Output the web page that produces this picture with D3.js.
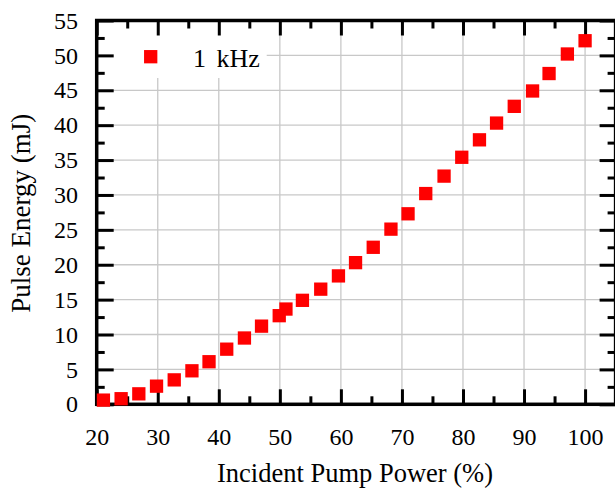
<!DOCTYPE html>
<html>
<head>
<meta charset="utf-8">
<script src="https://cdn.jsdelivr.net/npm/d3@7"></script>
<style>
  body { margin: 0; background: #fff; }
  svg { display: block; font-family: "Liberation Serif", "Times New Roman", serif; }
</style>
</head>
<body>
<script>
// Data
const pumpPower = [21.1, 24.0, 26.9, 29.8, 32.7, 35.6, 38.4, 41.3, 44.2, 47.0,
                   49.9, 51.0, 53.7, 56.7, 59.6, 62.4, 65.3, 68.2, 71.0, 73.9,
                   76.9, 79.8, 82.7, 85.5, 88.4, 91.4, 94.1, 97.1, 100.0];
const pulseEnergy = [0.6, 0.8, 1.5, 2.6, 3.5, 4.8, 6.1, 7.9, 9.5, 11.2,
                     12.7, 13.65, 14.9, 16.5, 18.4, 20.3, 22.5, 25.1, 27.3, 30.2,
                     32.7, 35.4, 37.9, 40.3, 42.7, 44.9, 47.4, 50.2, 52.1];
const xTicks = [20, 30, 40, 50, 60, 70, 80, 90, 100];
const xMinor = [25, 35, 45, 55, 65, 75, 85, 95, 105];
const yTicks = [0, 5, 10, 15, 20, 25, 30, 35, 40, 45, 50, 55];
const yMinor = [2.5, 7.5, 12.5, 17.5, 22.5, 27.5, 32.5, 37.5, 42.5, 47.5, 52.5];
const seriesName = '1 kHz';
const xTitle = 'Incident Pump Power (%)';
const yTitle = 'Pulse Energy (mJ)';

const width = 615, height = 489;
const plot = { left: 96.7, right: 615.6, top: 20.5, bottom: 404.3 };
const fontFamily = '"Liberation Serif", "Times New Roman", serif';

const svg = d3.select('body')
  .append('svg')
  .attr('width', width)
  .attr('height', height);

const x = d3.scaleLinear().domain([20, 105]).range([plot.left, plot.right]);
const y = d3.scaleLinear().domain([0, 55]).range([plot.bottom, plot.top]);

// grid
const grid = svg.append('g').attr('stroke', '#c8c8c8').attr('stroke-width', 1.3);
grid.selectAll('.gx')
  .data(xTicks.slice(1))
  .enter().append('line')
  .attr('x1', d => x(d)).attr('x2', d => x(d))
  .attr('y1', plot.top).attr('y2', plot.bottom);
grid.selectAll('.gy')
  .data(yTicks.slice(1))
  .enter().append('line')
  .attr('x1', plot.left).attr('x2', plot.right)
  .attr('y1', d => y(d)).attr('y2', d => y(d));

// legend background covers the grid
svg.append('rect')
  .attr('x', plot.left).attr('y', plot.top)
  .attr('width', 170).attr('height', 57.5)
  .attr('fill', '#fff');

// axes, ticks pointing inward
function styleAxis(g) {
  g.attr('font-family', fontFamily).attr('font-size', 24);
  g.select('.domain').remove();
  g.selectAll('.tick line').attr('stroke', '#000').attr('stroke-width', 3);
  g.selectAll('.tick text').attr('fill', '#000');
}

svg.append('g')
  .attr('transform', `translate(0, ${plot.bottom})`)
  .call(d3.axisBottom(x).tickValues(xTicks).tickSize(-15).tickPadding(24))
  .call(styleAxis);
svg.append('g')
  .attr('transform', `translate(0, ${plot.bottom})`)
  .call(d3.axisBottom(x).tickValues(xMinor).tickSize(-8).tickFormat(''))
  .call(styleAxis);
svg.append('g')
  .attr('transform', `translate(0, ${plot.top})`)
  .call(d3.axisTop(x).tickValues(xTicks).tickSize(-15).tickFormat(''))
  .call(styleAxis);
svg.append('g')
  .attr('transform', `translate(0, ${plot.top})`)
  .call(d3.axisTop(x).tickValues(xMinor).tickSize(-8).tickFormat(''))
  .call(styleAxis);

svg.append('g')
  .attr('transform', `translate(${plot.left}, 0)`)
  .call(d3.axisLeft(y).tickValues(yTicks).tickSize(-17).tickPadding(18.7))
  .call(styleAxis);
svg.append('g')
  .attr('transform', `translate(${plot.left}, 0)`)
  .call(d3.axisLeft(y).tickValues(yMinor).tickSize(-8).tickFormat(''))
  .call(styleAxis);
svg.append('g')
  .attr('transform', `translate(${plot.right}, 0)`)
  .call(d3.axisRight(y).tickValues(yTicks).tickSize(-16).tickFormat(''))
  .call(styleAxis);
svg.append('g')
  .attr('transform', `translate(${plot.right}, 0)`)
  .call(d3.axisRight(y).tickValues(yMinor).tickSize(-8).tickFormat(''))
  .call(styleAxis);

// frame
svg.append('rect')
  .attr('x', plot.left).attr('y', plot.top)
  .attr('width', plot.right - plot.left).attr('height', plot.bottom - plot.top)
  .attr('fill', 'none').attr('stroke', '#000').attr('stroke-width', 3.5);

// points
const size = 13.3;
svg.append('g')
  .selectAll('rect')
  .data(pumpPower.map((p, i) => ({ p, e: pulseEnergy[i] })))
  .enter().append('rect')
  .attr('x', d => x(d.p) - size / 2)
  .attr('y', d => y(d.e) - size / 2)
  .attr('width', size).attr('height', size)
  .attr('fill', '#ff0000');

// legend
svg.append('rect')
  .attr('x', 150.7 - size / 2).attr('y', 56.7 - size / 2)
  .attr('width', size).attr('height', size)
  .attr('fill', '#ff0000');
svg.append('text')
  .text(seriesName)
  .attr('x', 193).attr('y', 66.5)
  .style('font-size', '26px')
  .style('word-spacing', '4px');

// axis titles
svg.append('text')
  .text(xTitle)
  .attr('x', 355)
  .attr('y', 481.7)
  .attr('text-anchor', 'middle')
  .style('font-size', '26.5px');
svg.append('text')
  .text(yTitle)
  .attr('transform', `translate(29.5, 213.3) rotate(-90)`)
  .attr('text-anchor', 'middle')
  .style('font-size', '27px');
</script>
</body>
</html>
